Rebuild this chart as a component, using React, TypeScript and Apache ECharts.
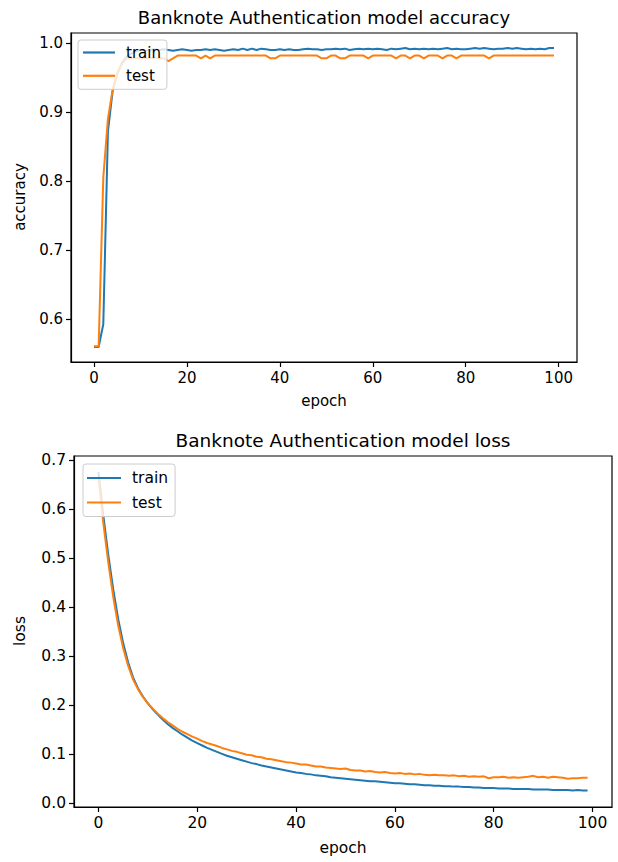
import React, { useEffect, useRef } from "react";
import * as echarts from "echarts";

const accTrain = [
  0.559, 0.559, 0.592, 0.872, 0.930, 0.956, 0.971, 0.980, 0.985, 0.988,
  0.990, 0.989, 0.990, 0.991, 0.990, 0.991, 0.990, 0.989, 0.990, 0.991,
  0.990, 0.989, 0.990, 0.990, 0.991, 0.990, 0.991, 0.990, 0.989, 0.990,
  0.991, 0.990, 0.992, 0.990, 0.992, 0.990, 0.992, 0.991, 0.990, 0.990,
  0.991, 0.990, 0.991, 0.990, 0.990, 0.991, 0.992, 0.991, 0.991, 0.990,
  0.991, 0.991, 0.992, 0.991, 0.992, 0.990, 0.991, 0.992, 0.991, 0.992,
  0.991, 0.992, 0.991, 0.990, 0.992, 0.991, 0.992, 0.993, 0.991, 0.992,
  0.991, 0.992, 0.991, 0.992, 0.991, 0.992, 0.993, 0.991, 0.992, 0.991,
  0.991, 0.992, 0.993, 0.992, 0.993, 0.992, 0.991, 0.992, 0.992, 0.993,
  0.992, 0.993, 0.992, 0.991, 0.992, 0.991, 0.992, 0.991, 0.993, 0.993,
];

const accTest = [
  0.560, 0.560, 0.805, 0.890, 0.932, 0.956, 0.970, 0.978, 0.978, 0.978,
  0.978, 0.978, 0.978, 0.978, 0.978, 0.978, 0.974, 0.978, 0.982, 0.982,
  0.982, 0.982, 0.982, 0.978, 0.982, 0.978, 0.982, 0.982, 0.982, 0.982,
  0.982, 0.982, 0.982, 0.982, 0.982, 0.982, 0.982, 0.982, 0.978, 0.978,
  0.982, 0.982, 0.982, 0.982, 0.982, 0.982, 0.982, 0.982, 0.982, 0.978,
  0.978, 0.982, 0.982, 0.978, 0.978, 0.982, 0.982, 0.982, 0.982, 0.978,
  0.982, 0.982, 0.982, 0.982, 0.982, 0.978, 0.982, 0.982, 0.978, 0.982,
  0.982, 0.978, 0.982, 0.982, 0.982, 0.978, 0.982, 0.982, 0.978, 0.982,
  0.982, 0.982, 0.982, 0.982, 0.982, 0.978, 0.982, 0.982, 0.982, 0.982,
  0.982, 0.982, 0.982, 0.982, 0.982, 0.982, 0.982, 0.982, 0.982, 0.982,
];

const lossTrain = [
  0.675, 0.585, 0.505, 0.435, 0.375, 0.326, 0.287, 0.256, 0.234, 0.217,
  0.203, 0.191, 0.180, 0.170, 0.161, 0.153, 0.146, 0.139, 0.133, 0.127,
  0.122, 0.117, 0.112, 0.108, 0.104, 0.100, 0.096, 0.093, 0.090, 0.087,
  0.084, 0.081, 0.079, 0.076, 0.074, 0.072, 0.070, 0.068, 0.066, 0.064,
  0.062, 0.061, 0.059, 0.058, 0.056, 0.055, 0.054, 0.052, 0.051, 0.050,
  0.049, 0.048, 0.047, 0.046, 0.045, 0.044, 0.044, 0.043, 0.042, 0.041,
  0.040, 0.040, 0.039, 0.038, 0.038, 0.037, 0.036, 0.036, 0.035, 0.035,
  0.034, 0.034, 0.033, 0.033, 0.032, 0.032, 0.031, 0.031, 0.030, 0.030,
  0.030, 0.029, 0.029, 0.029, 0.028, 0.028, 0.028, 0.028, 0.027, 0.027,
  0.027, 0.027, 0.026, 0.026, 0.026, 0.026, 0.025, 0.026, 0.025, 0.025,
];

const lossTest = [
  0.665, 0.570, 0.490, 0.420, 0.362, 0.316, 0.280, 0.252, 0.232, 0.216,
  0.203, 0.192, 0.182, 0.173, 0.165, 0.158, 0.151, 0.145, 0.140, 0.135,
  0.131, 0.126, 0.122, 0.119, 0.116, 0.112, 0.109, 0.106, 0.104, 0.101,
  0.098, 0.097, 0.094, 0.093, 0.090, 0.089, 0.087, 0.085, 0.083, 0.082,
  0.080, 0.078, 0.078, 0.076, 0.074, 0.074, 0.072, 0.071, 0.070, 0.069,
  0.070, 0.067, 0.066, 0.066, 0.064, 0.065, 0.063, 0.062, 0.063, 0.061,
  0.060, 0.061, 0.059, 0.060, 0.058, 0.059, 0.057, 0.056, 0.057, 0.056,
  0.056, 0.055, 0.056, 0.054, 0.055, 0.053, 0.054, 0.053, 0.054, 0.050,
  0.052, 0.052, 0.053, 0.051, 0.052, 0.051, 0.052, 0.053, 0.055, 0.052,
  0.053, 0.051, 0.053, 0.052, 0.051, 0.049, 0.050, 0.050, 0.051, 0.051,
];

const xTicks = [0, 20, 40, 60, 80, 100];
const accTicks = [0.6, 0.7, 0.8, 0.9, 1.0];
const lossTicks = [0.0, 0.1, 0.2, 0.3, 0.4, 0.5, 0.6, 0.7];

const FONT = "DejaVu Sans";
const BLUE = "#1f77b4";
const ORANGE = "#ff7f0e";

const toPairs = (arr: number[]) => arr.map((v, i) => [i, v]);

export default function App() {
  const ref = useRef<HTMLDivElement>(null);
  useEffect(() => {
    if (!ref.current) return;
    const chart = echarts.init(ref.current, undefined, { renderer: "svg" });

    const g1 = { left: 71, top: 33, width: 506, height: 329 };
    const g2 = { left: 74, top: 456, width: 538, height: 351 };

    const xAxisBase = (gridIndex: number, fs: number) => ({
      type: "value",
      gridIndex,
      min: -4.95,
      max: 103.95,
      splitLine: { show: false },
      axisLine: { show: true, onZero: false, lineStyle: { color: "#000", width: 1.2 } },
      axisTick: { show: true, inside: false, length: 5, customValues: xTicks, lineStyle: { color: "#000", width: 1.2 } },
      axisLabel: {
        show: true,
        customValues: xTicks,
        margin: 8,
        fontFamily: FONT,
        fontSize: fs,
        color: "#000",
        formatter: (v: number) => String(Math.round(v)),
      },
    });

    const yAxisBase = (gridIndex: number, min: number, max: number, ticks: number[], fs: number) => ({
      type: "value",
      gridIndex,
      min,
      max,
      splitLine: { show: false },
      axisLine: { show: true, onZero: false, lineStyle: { color: "#000", width: 1.2 } },
      axisTick: { show: true, inside: false, length: 5, customValues: ticks, lineStyle: { color: "#000", width: 1.2 } },
      axisLabel: {
        show: true,
        customValues: ticks,
        margin: 8,
        fontFamily: FONT,
        fontSize: fs,
        color: "#000",
        formatter: (v: number) => v.toFixed(1),
      },
    });

    const lineSeries = (name: string, data: number[], color: string, idx: number) => ({
      type: "line",
      name,
      xAxisIndex: idx,
      yAxisIndex: idx,
      data: toPairs(data),
      showSymbol: false,
      symbol: "none",
      lineStyle: { color, width: 2 },
      itemStyle: { color },
      z: color === BLUE ? 2 : 3,
    });

    const legendBase = (left: number, top: number, fs: number, iw: number, gap: number, pad: number[]) => ({
      data: ["train", "test"],
      left,
      top,
      orient: "vertical",
      icon: "rect",
      itemWidth: iw,
      itemHeight: 2.2,
      itemGap: gap,
      backgroundColor: "rgba(255,255,255,0.8)",
      borderColor: "#cccccc",
      borderWidth: 1,
      borderRadius: 3,
      padding: pad,
      selectedMode: false,
      textStyle: { fontFamily: FONT, fontSize: fs, color: "#000", padding: [0, 0, 0, 6] },
      z: 10,
    });

    chart.setOption({
      animation: false,
      grid: [
        { ...g1, show: true, borderColor: "#000", borderWidth: 1.2, backgroundColor: "transparent" },
        { ...g2, show: true, borderColor: "#000", borderWidth: 1.2, backgroundColor: "transparent" },
      ],
      xAxis: [xAxisBase(0, 15), xAxisBase(1, 15.5)],
      yAxis: [
        yAxisBase(0, 0.5373, 1.0147, accTicks, 15),
        yAxisBase(1, -0.0086, 0.708, lossTicks, 15.5),
      ],
      legend: [
        legendBase(78, 40, 15, 32, 8.3, [5, 6, 6, 5]),
        legendBase(83, 464, 15.5, 34, 8.5, [6, 7, 6, 4]),
      ],
      series: [
        lineSeries("train", accTrain, BLUE, 0),
        lineSeries("test", accTest, ORANGE, 0),
        lineSeries("train", lossTrain, BLUE, 1),
        lineSeries("test", lossTest, ORANGE, 1),
      ],
      graphic: [
        {
          type: "text",
          x: 324,
          y: 17,
          style: { text: "Banknote Authentication model accuracy", fontFamily: FONT, fontSize: 18, fill: "#000", textAlign: "center", textVerticalAlign: "middle" },
        },
        {
          type: "text",
          x: 343,
          y: 440,
          style: { text: "Banknote Authentication model loss", fontFamily: FONT, fontSize: 18.5, fill: "#000", textAlign: "center", textVerticalAlign: "middle" },
        },
        {
          type: "text",
          x: 324,
          y: 401,
          style: { text: "epoch", fontFamily: FONT, fontSize: 15, fill: "#000", textAlign: "center", textVerticalAlign: "middle" },
        },
        {
          type: "text",
          x: 343,
          y: 848,
          style: { text: "epoch", fontFamily: FONT, fontSize: 15.5, fill: "#000", textAlign: "center", textVerticalAlign: "middle" },
        },
        {
          type: "text",
          x: 20,
          y: 197,
          rotation: Math.PI / 2,
          style: { text: "accuracy", fontFamily: FONT, fontSize: 15, fill: "#000", textAlign: "center", textVerticalAlign: "middle" },
        },
        {
          type: "text",
          x: 20,
          y: 631,
          rotation: Math.PI / 2,
          style: { text: "loss", fontFamily: FONT, fontSize: 15.5, fill: "#000", textAlign: "center", textVerticalAlign: "middle" },
        },
      ],
    });

    return () => chart.dispose();
  }, []);

  return (
    <div
      ref={ref}
      style={{ position: "fixed", left: 0, top: 0, width: 618, height: 862, background: "#fff" }}
    />
  );
}
